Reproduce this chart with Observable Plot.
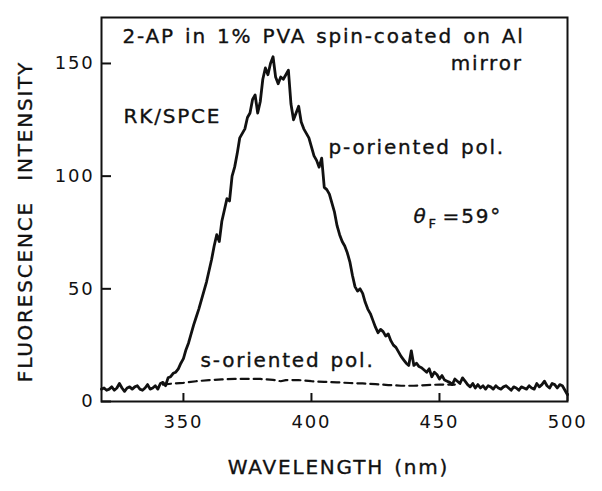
<!DOCTYPE html>
<html><head><meta charset="utf-8">
<script src="https://cdn.jsdelivr.net/npm/d3@7"></script>
<script src="https://cdn.jsdelivr.net/npm/@observablehq/plot@0.6"></script>
<style>
body{margin:0;background:#fff;}
#chart svg text{letter-spacing:1.8px;word-spacing:2px;}
</style></head><body><div id="chart"></div>
<script>
const pWavelength = [
318,319,320,321,322,323,324,325,326,327,
328,329,330,331,332,333,334,335,336,337,
338,339,340,341,342,343,344,345,346,347,
348,349,350,351,352,353,354,355,356,357,
358,359,360,361,362,363,364,365,366,367,
368,369,370,371,372,373,374,375,376,377,
378,379,380,381,382,383,384,385,386,387,
388,389,390,391,392,393,394,395,396,397,
398,399,400,401,402,403,404,405,406,407,
408,409,410,411,412,413,414,415,416,417,
418,419,420,421,422,423,424,425,426,427,
428,429,430,431,432,433,434,435,436,437,
438,439,440,441,442,443,444,445,446,447,
448,449,450,451,452,453,454,455,456,457,
458,459,460,461,462,463,464,465,466,467,
468,469,470,471,472,473,474,475,476,477,
478,479,480,481,482,483,484,485,486,487,
488,489,490,491,492,493,494,495,496,497,
498,499,500];
const pIntensity = [
5.5,6,5,5.5,6.5,5,6,8,6,4.5,
6,6.5,5.5,6.5,7,5.5,5,6,7.5,5.5,
6,7,5.5,8,8.5,7,10.5,11,12.5,13,
14.5,17,19,23,26,30,34,37.5,41,45,
49,53,58,63,69,74,71,80,85,90,
89,100,104,110,117,119,121,126,128,134,
136,128,133,143,148,145,150,153,144,141,
144,143,145,147,132,125,128,131,124,121,
119,117,113,109,107,104,108,95,94,92,
88,84,78,74,71,69,66,62,56,51,
49,50,48,44,41,39,36,33,30.5,32,
31,29,30,27,25,24,22,20,18.5,17,
16,22.5,16,17,15.5,15,14,13,14.5,11,
13,12,10,11.5,9.5,9,8.5,7.5,10,9,
8,10.5,9,7.5,6.5,8,6,7.5,6,7,
5.5,7,6.5,5.5,7,6,5.5,6.5,7,6,
5,6.5,6,5,6.5,6,5.5,7,6,5.5,
8,6.5,7.5,9,7,6,8,7.5,6,7.5,
7,5,3];
const sWavelength = [342,346,350,355,360,365,370,375,380,385,388,390,395,400,405,410,415,420,425,430,435,440,445,450,456];
const sIntensity  = [7.5,8,8.3,9,9.5,9.8,10,10,10,9.6,9,9.5,9.5,9,8.7,8.5,8.2,8,7.7,7.3,7,7,7.3,7.5,7.5];
const xTicks = [350,400,450,500];
const yTicks = [0,50,100,150];
const xLabel = "WAVELENGTH (nm)";
const yLabel = "FLUORESCENCE  INTENSITY";
const titleLine1 = "2-AP in 1% PVA spin-coated on Al";
const titleLine2 = "mirror";
const methodLabel = "RK/SPCE";
const pLabel = "p-oriented pol.";
const sLabel = "s-oriented pol.";

const pData = pWavelength.map((w, i) => ({w, v: pIntensity[i]}));
const sData = sWavelength.map((w, i) => ({w, v: sIntensity[i]}));
const ink = "#111";
const txt = {fill: ink, stroke: ink, strokeWidth: 0.35, fontSize: 20};

const chart = Plot.plot({
  width: 602, height: 491,
  marginLeft: 101, marginRight: 35, marginTop: 17, marginBottom: 90,
  style: {fontFamily: "DejaVu Sans", fontSize: "18px", color: ink, background: "white"},
  x: {domain: [318, 500]},
  y: {domain: [0, 170.4]},
  marks: [
    Plot.frame({stroke: ink, strokeWidth: 2}),
    Plot.axisX(xTicks, {tickSize: -8, tickPadding: 22, fontSize: 18, label: null, stroke: ink, strokeWidth: 2}),
    Plot.axisY(yTicks, {tickSize: -10, tickPadding: 17, fontSize: 18, label: null, stroke: ink, strokeWidth: 2}),
    Plot.line(sData, {x: "w", y: "v", stroke: ink, strokeWidth: 2.2, strokeDasharray: "8,5"}),
    Plot.line(pData, {x: "w", y: "v", stroke: ink, strokeWidth: 2.8, strokeLinejoin: "round"}),
    Plot.text([yLabel], {...txt, frameAnchor: "left", textAnchor: "middle", lineAnchor: "middle", rotate: -90, dx: -76, dy: 12}),
    Plot.text([xLabel], {...txt, frameAnchor: "bottom", textAnchor: "middle", lineAnchor: "bottom", dy: 72, dx: 4}),
    Plot.text([titleLine1], {...txt, x: 326.2, y: 158.9, textAnchor: "start", lineAnchor: "bottom"}),
    Plot.text([titleLine2], {...txt, x: 482.5, y: 146.9, textAnchor: "end", lineAnchor: "bottom"}),
    Plot.text([methodLabel], {...txt, x: 326.6, y: 123.8, textAnchor: "start", lineAnchor: "bottom"}),
    Plot.text([pLabel], {...txt, x: 406.7, y: 110, textAnchor: "start", lineAnchor: "bottom"}),
    Plot.text([sLabel], {...txt, x: 356.7, y: 15.1, textAnchor: "start", lineAnchor: "bottom"}),
    Plot.text(["θ"], {...txt, x: 439.9, y: 79, textAnchor: "start", lineAnchor: "bottom", fontStyle: "italic"}),
    Plot.text(["F"], {...txt, x: 439.9, y: 79, dx: 15, dy: 5, textAnchor: "start", lineAnchor: "bottom", fontSize: 13}),
    Plot.text(["=59°"], {...txt, x: 439.9, y: 79, dx: 29, textAnchor: "start", lineAnchor: "bottom"})
  ]
});
document.getElementById("chart").appendChild(chart);
</script></body></html>
